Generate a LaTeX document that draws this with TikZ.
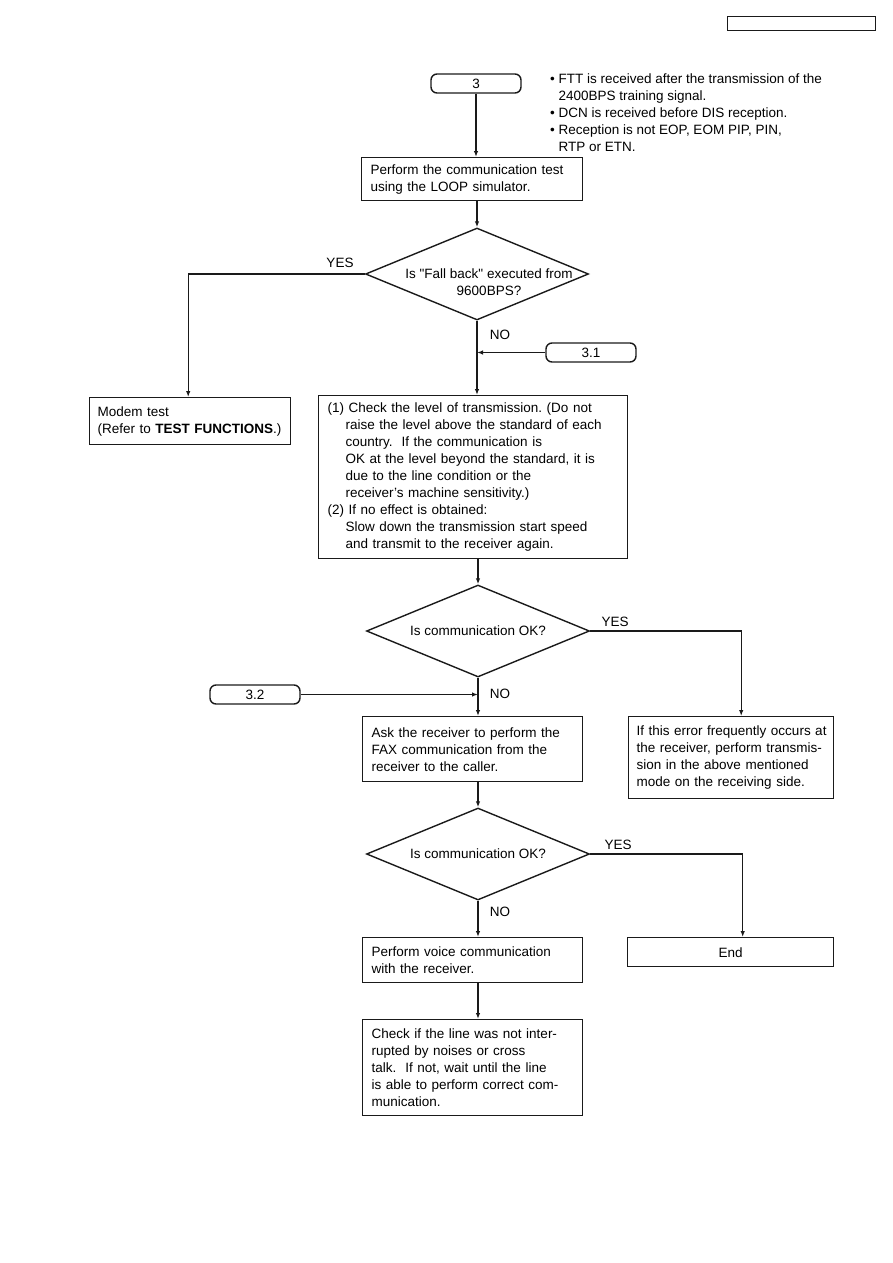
\documentclass[tikz,border=0pt]{standalone}
\usepackage{fontspec}
\setmainfont{Liberation Sans}
\usepackage{xcolor}
\usepackage{tikz}
\usetikzlibrary{arrows.meta,shapes.geometric,positioning}
\definecolor{inkblack}{HTML}{1A1A1A}
\newcommand{\flowfont}{\fontsize{13.5}{17}\selectfont}
\frenchspacing
\tikzset{
  flowarrow/.style={inkblack, line width=1.2pt, -{Latex[length=6pt,width=4.5pt]}},
  stepbox/.style={draw=inkblack, line width=1.4pt, anchor=north west, align=left, inner xsep=9pt, inner ysep=0pt, font=\flowfont},
  termbox/.style={draw=inkblack, line width=1.4pt, rounded corners=6pt, minimum width=90pt, minimum height=19pt, inner sep=0pt, font=\flowfont},
  decision/.style={draw=inkblack, line width=1.4pt, diamond, aspect=2.42, minimum width=223pt, minimum height=92pt, inner sep=-18pt, align=center, font=\flowfont},
  answer/.style={inner sep=0pt, font=\flowfont}
}

\begin{document}
\begin{tikzpicture}[x=1pt, y=-1pt]
  \useasboundingbox (0,0) rectangle (893,1263);
  \node[draw=inkblack, line width=1.4pt, anchor=north west, minimum width=148pt, minimum height=14pt, inner sep=0pt] (hdr) at (727,16) {};

  \node[termbox] (start) at (476,83.5) {3};
  \node[anchor=north west, align=left, inner sep=0pt, font=\flowfont] (notes) at (550,74) {%
    \textbullet\ FTT is received after the transmission of the\\
    \phantom{\textbullet\ }2400BPS training signal.\\
    \textbullet\ DCN is received before DIS reception.\\
    \textbullet\ Reception is not EOP, EOM PIP, PIN,\\
    \phantom{\textbullet\ }RTP or ETN.};

  \node[stepbox, text width=203pt, minimum height=43pt] (loop) at (361,157) {Perform the communication test\\using the LOOP simulator.};
  \node[decision] (fallback) at (477,274) {\rule{0pt}{26pt}\hspace*{24pt}Is \textquotedbl Fall back\textquotedbl\ executed from\\\hspace*{24pt}9600BPS?};
  \node[stepbox, text width=185pt, inner xsep=8pt, minimum height=47pt] (modem) at (89,397) {Modem test\\\mbox{(Refer to \textbf{TEST FUNCTIONS}.)}};
  \node[termbox] (p31) at (591,352.5) {3.1};
  \node[stepbox, text width=291pt, minimum height=163pt] (level) at (318,395) {%
    (1) Check the level of transmission. (Do not\\
    \hspace*{18pt}raise the level above the standard of each\\
    \hspace*{18pt}country.\ \ If the communication is\\
    \hspace*{18pt}OK at the level beyond the standard, it is\\
    \hspace*{18pt}due to the line condition or the\\
    \hspace*{18pt}receiver's machine sensitivity.)\\
    (2) If no effect is obtained:\\
    \hspace*{18pt}Slow down the transmission start speed\\
    \hspace*{18pt}and transmit to the receiver again.};

  \node[decision] (okfirst) at (478,631) {Is communication OK?};
  \node[termbox] (p32) at (255,694.5) {3.2};
  \node[stepbox, text width=202pt, minimum height=65pt] (askfax) at (362,716) {Ask the receiver to perform the\\FAX communication from the\\receiver to the caller.};
  \node[stepbox, text width=189pt, inner xsep=8pt, minimum height=82pt] (frequent) at (628,716) {\mbox{If this error frequently occurs at}\\\mbox{the receiver, perform transmis-}\\sion in the above mentioned\\mode on the receiving side.};

  \node[decision] (oksecond) at (478,854) {Is communication OK?};
  \node[stepbox, text width=202pt, minimum height=45pt] (voice) at (362,937) {Perform voice communication\\with the receiver.};
  \node[stepbox, align=center, text width=188pt, minimum height=29pt] (finish) at (627,937) {End};
  \node[stepbox, text width=202pt, minimum height=96pt] (linecheck) at (362,1019) {Check if the line was not inter-\\rupted by noises or cross\\talk.\ \ If not, wait until the line\\is able to perform correct com-\\munication.};

  \node[answer] (yesa) at (340,263) {YES};
  \node[answer] (noa) at (500,335) {NO};
  \node[answer] (yesb) at (615,622) {YES};
  \node[answer] (nob) at (500,694) {NO};
  \node[answer] (yesc) at (618,845) {YES};
  \node[answer] (noc) at (500,912) {NO};

  \draw[flowarrow] (start.south) -- (start.south |- loop.north);
  \draw[flowarrow] (fallback.north |- loop.south) -- (fallback.north);
  \draw[flowarrow] (fallback.west) -| ([xshift=-2pt]modem.north);
  \draw[flowarrow] (fallback.south) -- (fallback.south |- level.north);
  \draw[flowarrow] (p31.west) -- (p31.west -| fallback.south);
  \draw[flowarrow] (okfirst.north |- level.south) -- (okfirst.north);
  \draw[flowarrow] (okfirst.east) -| ([xshift=10pt]frequent.north);
  \draw[flowarrow] (okfirst.south) -- (okfirst.south |- askfax.north);
  \draw[flowarrow] (p32.east) -- (p32.east -| okfirst.south);
  \draw[flowarrow] (oksecond.north |- askfax.south) -- (oksecond.north);
  \draw[flowarrow] (oksecond.east) -| ([xshift=12pt]finish.north);
  \draw[flowarrow] (oksecond.south) -- (oksecond.south |- voice.north);
  \draw[flowarrow] (oksecond.south |- voice.south) -- (oksecond.south |- linecheck.north);
\end{tikzpicture}
\end{document}
